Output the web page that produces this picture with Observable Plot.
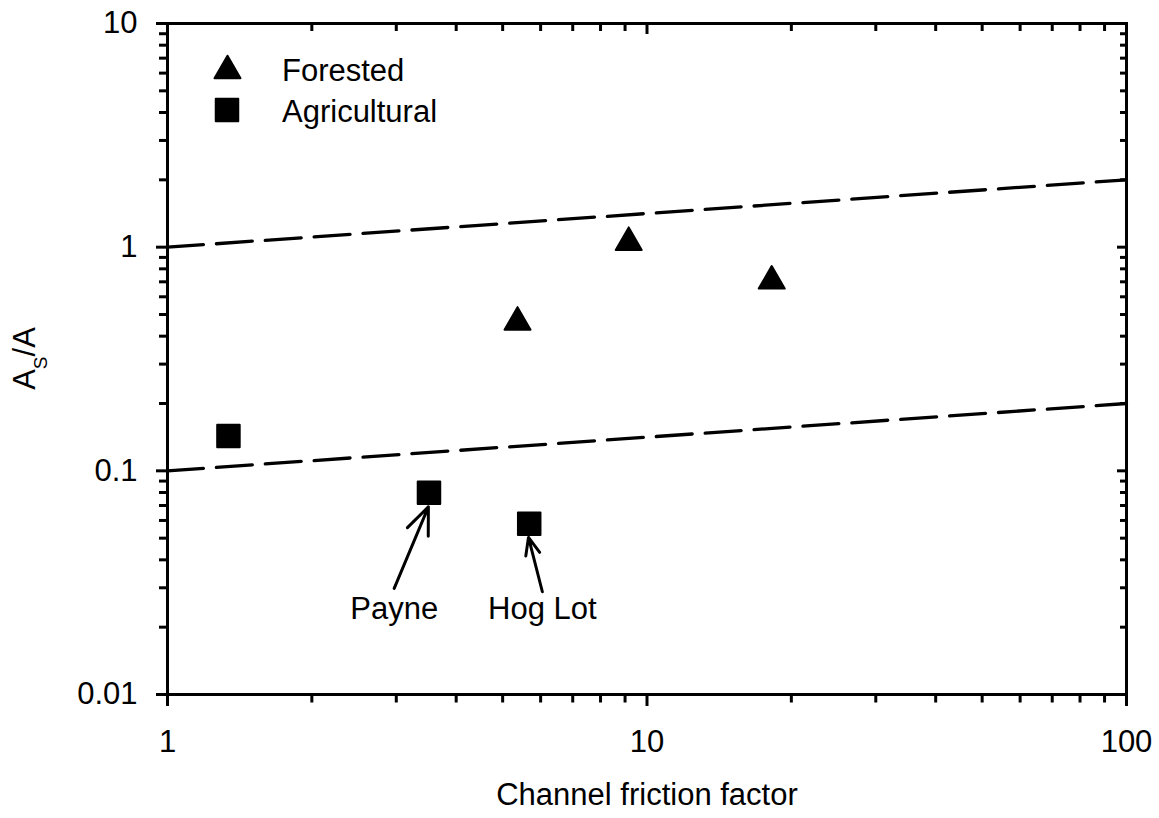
<!DOCTYPE html>
<html><head><meta charset="utf-8">
<script src="https://cdn.jsdelivr.net/npm/d3@7"></script>
<script src="https://cdn.jsdelivr.net/npm/@observablehq/plot@0.6"></script>
<style>
body{margin:0;background:#fff;}
#wrap{position:relative;width:1159px;height:818px;font-family:"Liberation Sans",Arial,sans-serif;}
#legend{position:absolute;left:205px;top:45px;}
</style></head><body><div id="wrap"></div>
<script>
// ---- data ----
const forestedX = [5.37, 9.16, 18.2];
const forestedY = [0.462, 1.05, 0.705];
const agriculturalX = [1.34, 3.51, 5.68];
const agriculturalY = [0.143, 0.0799, 0.058];
const envelopeX = [1, 100];
const upperEnvelopeY = [1, 2];
const lowerEnvelopeY = [0.1, 0.2];
const noteLabels = ["Payne", "Hog Lot"];
const noteTextX = [2.97, 6.05];
const noteTextY = [0.0241, 0.0241];
const noteTailX = [2.97, 6.05];
const noteTailY = [0.0298, 0.0288];
const noteTipX = [3.50, 5.66];
const noteTipY = [0.069, 0.0504];
const xMajorTicks = [1, 10, 100];
const xMinorTicks = [2, 3, 4, 5, 6, 7, 8, 9, 20, 30, 40, 50, 60, 70, 80, 90];
const yMajorTicks = [0.01, 0.1, 1, 10];
const yMinorTicks = [0.02, 0.03, 0.04, 0.05, 0.06, 0.07, 0.08, 0.09, 0.2, 0.3, 0.4, 0.5, 0.6, 0.7, 0.8, 0.9, 2, 3, 4, 5, 6, 7, 8, 9];
const legendLabels = ["Forested", "Agricultural"];
const xLabel = "Channel friction factor";
const yLabelMain = "A", yLabelSub = "S", yLabelTail = "/A";

// ---- tables ----
const forested = forestedX.map((x, i) => ({x, y: forestedY[i]}));
const agricultural = agriculturalX.map((x, i) => ({x, y: agriculturalY[i]}));
const envelopes = [
  ...envelopeX.map((x, i) => ({x, y: upperEnvelopeY[i], g: "upper"})),
  ...envelopeX.map((x, i) => ({x, y: lowerEnvelopeY[i], g: "lower"}))
];
const notes = noteLabels.map((t, i) => ({t, tx: noteTextX[i], ty: noteTextY[i], x1: noteTailX[i], y1: noteTailY[i], x2: noteTipX[i], y2: noteTipY[i]}));

const FONT = "'Liberation Sans', Arial, sans-serif";
const fmt = d => String(d);

const chart = Plot.plot({
  width: 1159, height: 818,
  marginTop: 23, marginRight: 33, marginBottom: 124, marginLeft: 167,
  style: {fontFamily: FONT, fontSize: "31px", color: "black", background: "white", overflow: "visible"},
  x: {type: "log", domain: [1, 100]},
  y: {type: "log", domain: [0.01, 10]},
  marks: [
    Plot.line(envelopes, {x: "x", y: "y", z: "g", stroke: "black", strokeWidth: 3.3, strokeDasharray: "36,13", strokeLinecap: "round"}),
    Plot.arrow(notes, {x1: "x1", y1: "y1", x2: "x2", y2: "y2", stroke: "black", strokeWidth: 3, headLength: 16, headAngle: 45}),
    Plot.text(notes, {x: "tx", y: "ty", text: "t", fontSize: 31, lineAnchor: "middle", fill: "black"}),
    Plot.dot(forested, {x: "x", y: "y", symbol: "triangle", r: 9.65, fill: "black", stroke: "black", strokeWidth: 2, strokeLinejoin: "round"}),
    Plot.dot(agricultural, {x: "x", y: "y", symbol: "square", r: 12.7, fill: "black", stroke: "black", strokeWidth: 2, strokeLinejoin: "round"}),
    // bottom axis (outward)
    Plot.axisX({anchor: "bottom", ticks: xMajorTicks, tickSize: 12, tickPadding: 23, tickFormat: fmt, strokeWidth: 3, fontSize: 31, label: null}),
    Plot.axisX({anchor: "bottom", ticks: xMinorTicks, tickSize: 8.5, tickFormat: () => "", strokeWidth: 3, label: null}),
    // top axis (inward)
    Plot.axisX({anchor: "top", ticks: xMajorTicks, tickSize: -10, tickFormat: () => "", strokeWidth: 3, label: null}),
    Plot.axisX({anchor: "top", ticks: xMinorTicks, tickSize: -7, tickFormat: () => "", strokeWidth: 3, label: null}),
    // left axis (outward)
    Plot.axisY({anchor: "left", ticks: yMajorTicks, tickSize: 11, tickPadding: 19, tickFormat: fmt, strokeWidth: 3, fontSize: 31, label: null}),
    Plot.axisY({anchor: "left", ticks: yMinorTicks, tickSize: 8, tickFormat: () => "", strokeWidth: 3, label: null}),
    // right axis (inward)
    Plot.axisY({anchor: "right", ticks: yMajorTicks, tickSize: -10, tickFormat: () => "", strokeWidth: 3, label: null}),
    Plot.axisY({anchor: "right", ticks: yMinorTicks, tickSize: -7, tickFormat: () => "", strokeWidth: 3, label: null}),
    Plot.frame({stroke: "black", strokeWidth: 3}),
    Plot.text([xLabel], {text: d => d, frameAnchor: "bottom", dy: 101, lineAnchor: "middle", fontSize: 31, fill: "black"})
  ]
});

// y-axis title with subscript
const svg = d3.select(chart);
const yt = svg.append("text")
  .attr("transform", "translate(35,358.5) rotate(-90)")
  .attr("text-anchor", "middle")
  .attr("font-family", FONT)
  .attr("font-size", 31)
  .attr("fill", "black");
yt.append("tspan").text(yLabelMain);
yt.append("tspan").attr("font-size", 19).attr("dy", 12).text(yLabelSub);
yt.append("tspan").attr("dy", -12).text(yLabelTail);

const wrap = document.getElementById("wrap");
wrap.appendChild(chart);

// legend overlay
const leg = d3.select(wrap).append("svg").attr("id", "legend").attr("width", 240).attr("height", 90);
const syms = [d3.symbolTriangle, d3.symbolSquare];
const symSize = [9.65 * 9.65 * Math.PI, 12.7 * 12.7 * Math.PI];
const symPos = [[22.5, 25.7], [22, 65]];
const textBase = [36, 76.7];
legendLabels.forEach((lab, i) => {
  leg.append("path")
    .attr("d", d3.symbol(syms[i], symSize[i])())
    .attr("transform", `translate(${symPos[i][0]},${symPos[i][1]})`)
    .attr("fill", "black").attr("stroke", "black").attr("stroke-width", 2).attr("stroke-linejoin", "round");
  leg.append("text").attr("x", 77).attr("y", textBase[i])
    .attr("font-family", FONT).attr("font-size", 31).attr("fill", "black").text(lab);
});
</script></body></html>
